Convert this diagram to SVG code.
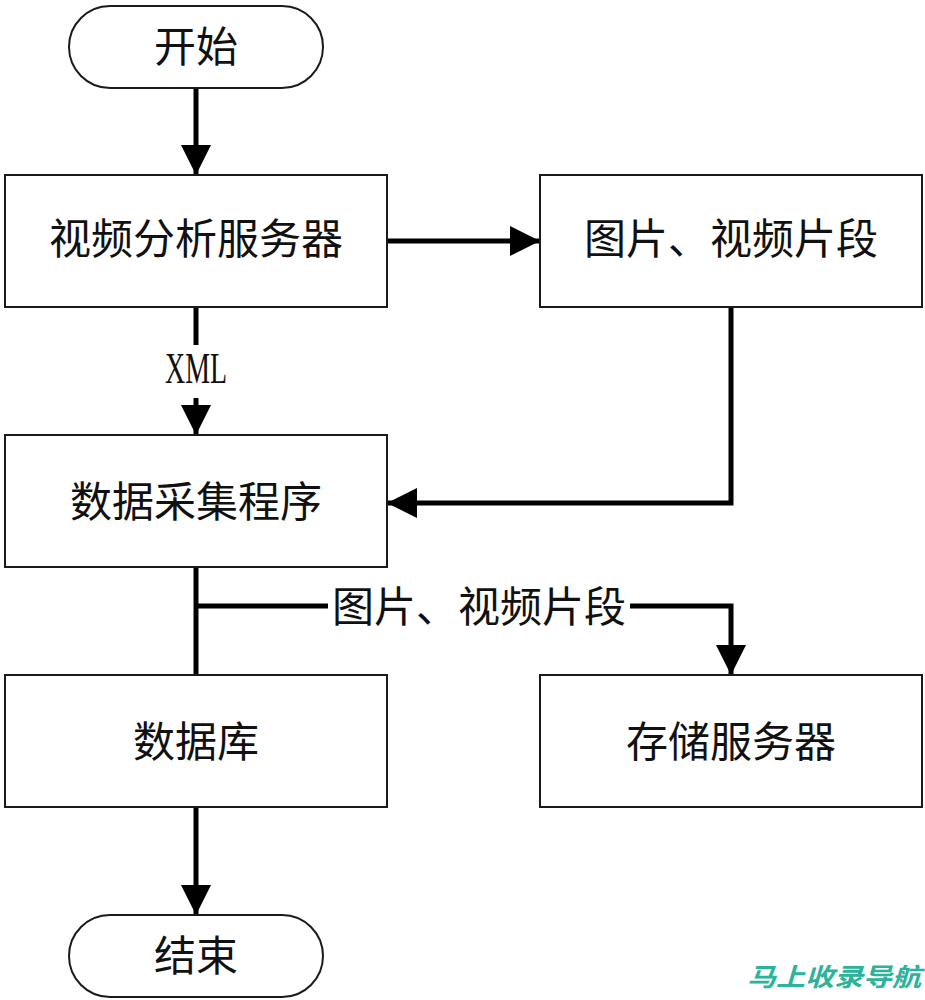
<svg xmlns="http://www.w3.org/2000/svg" width="925" height="1000" viewBox="0 0 925 1000">
<style>
.box{fill:#fff;stroke:#1a1a1a;stroke-width:2}
.lbl{font-family:"Noto Sans CJK SC","Noto Sans",sans-serif;font-size:42px;fill:#111;text-anchor:middle}
.con{fill:none;stroke:#000;stroke-width:5;stroke-linejoin:miter}
.lat{font-family:"Liberation Serif",serif;font-size:44px;fill:#111}
.wm{font-family:"Noto Sans CJK SC",sans-serif;font-size:25px;font-weight:bold;font-style:italic;fill:#2bb39b}
</style>
<defs>
<marker id="ah" markerUnits="userSpaceOnUse" markerWidth="32" markerHeight="32" refX="30" refY="15" orient="auto">
<path d="M0,0 L30,15 L0,30 Z" fill="#000"/>
</marker>
</defs>
<rect width="925" height="1000" fill="#fff"/>
<g id="connectors">
<line class="con" x1="196" y1="88" x2="196" y2="175" marker-end="url(#ah)"/>
<line class="con" x1="387" y1="241" x2="540" y2="241" marker-end="url(#ah)"/>
<line class="con" x1="196" y1="307" x2="196" y2="345"/>
<line class="con" x1="196" y1="398" x2="196" y2="435" marker-end="url(#ah)"/>
<text class="lat" x="165" y="383" textLength="62" lengthAdjust="spacingAndGlyphs">XML</text>
<polyline class="con" points="731,307 731,503 387,503" marker-end="url(#ah)"/>
<line class="con" x1="196" y1="567" x2="196" y2="675"/>
<line class="con" x1="196" y1="606" x2="328" y2="606"/>
<polyline class="con" points="630,606 731,606 731,675" marker-end="url(#ah)"/>
<text class="lbl" x="479" y="622">图片、视频片段</text>
<line class="con" x1="196" y1="807" x2="196" y2="915" marker-end="url(#ah)"/>
</g>
<g id="start">
<rect class="box" x="69" y="6" width="254" height="82" rx="41" ry="41"/>
<text class="lbl" x="196" y="62">开始</text>
</g>
<g id="video-server">
<rect class="box" x="5" y="175" width="382" height="132"/>
<text class="lbl" x="196" y="254">视频分析服务器</text>
</g>
<g id="clips">
<rect class="box" x="540" y="175" width="382" height="132"/>
<text class="lbl" x="731" y="254">图片、视频片段</text>
</g>
<g id="collector">
<rect class="box" x="5" y="435" width="382" height="132"/>
<text class="lbl" x="196" y="517">数据采集程序</text>
</g>
<g id="database">
<rect class="box" x="5" y="675" width="382" height="132"/>
<text class="lbl" x="196" y="757">数据库</text>
</g>
<g id="storage">
<rect class="box" x="540" y="675" width="382" height="132"/>
<text class="lbl" x="731" y="757">存储服务器</text>
</g>
<g id="end">
<rect class="box" x="69" y="915" width="254" height="82" rx="41" ry="41"/>
<text class="lbl" x="196" y="971">结束</text>
</g>
<text class="wm" x="747" y="986" textLength="174" lengthAdjust="spacingAndGlyphs">马上收录导航</text>
</svg>
